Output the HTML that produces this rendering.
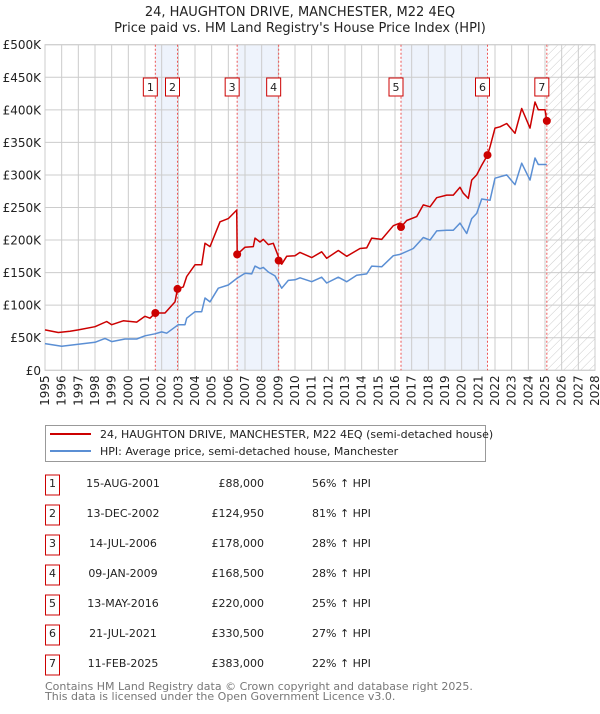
<!DOCTYPE html>
<html><head><meta charset="utf-8">
<style>
body{margin:0;background:#fff;width:600px;height:710px;overflow:hidden;font-family:"DejaVu Sans","Liberation Sans",sans-serif;}
svg text{font-family:"DejaVu Sans","Liberation Sans",sans-serif;}
</style></head>
<body>
<svg id="c" width="600" height="710"></svg>
<script>
const saleYears=[2001.62,2002.95,2006.53,2009.02,2016.36,2021.55,2025.11];
const salePrices=[88,124.95,178,168.5,220,330.5,383];
const saleDates=["15-AUG-2001","13-DEC-2002","14-JUL-2006","09-JAN-2009","13-MAY-2016","21-JUL-2021","11-FEB-2025"];
const salePriceLabels=["£88,000","£124,950","£178,000","£168,500","£220,000","£330,500","£383,000"];
const saleHpiLabels=["56% ↑ HPI","81% ↑ HPI","28% ↑ HPI","28% ↑ HPI","25% ↑ HPI","27% ↑ HPI","22% ↑ HPI"];
const priceYears=[1995,1995.8,1996.5,1997,1998,1998.7,1999,1999.7,2000.5,2001,2001.3,2001.62,2002.2,2002.8,2002.95,2003.3,2003.5,2004,2004.4,2004.6,2004.9,2005.5,2006,2006.5,2006.53,2007,2007.5,2007.6,2007.9,2008.1,2008.4,2008.7,2009.0,2009.02,2009.2,2009.5,2010,2010.3,2011,2011.6,2011.9,2012.6,2013.1,2013.9,2014.3,2014.6,2015.2,2015.9,2016.3,2016.36,2016.7,2017.3,2017.7,2018.1,2018.5,2019.1,2019.5,2019.9,2020.1,2020.4,2020.6,2020.9,2021.2,2021.55,2021.7,2022.0,2022.3,2022.7,2023.2,2023.6,2024.1,2024.4,2024.6,2025.0,2025.11];
const priceValues=[62,58,60,62,67,75,70,76,74,83,80,88,88,105,124.95,128,144,162,162,195,190,228,233,246,178,189,190,203,197,201,193,195,175,168.5,163,175,176,181,173,182,172,184,175,187,188,203,201,222,226,220,230,236,254,251,265,269,269,281,272,264,292,300,315,330.5,343,372,374,379,364,402,372,412,400,400,383];
const hpiYears=[1995,1996,1997,1998,1998.6,1999,1999.8,2000.5,2001,2001.6,2002,2002.3,2003,2003.4,2003.5,2004,2004.4,2004.6,2004.9,2005.4,2006,2006.5,2007,2007.4,2007.6,2007.9,2008.1,2008.4,2008.8,2009.2,2009.6,2010,2010.3,2011,2011.6,2011.9,2012.6,2013.1,2013.7,2014.3,2014.6,2015.2,2015.9,2016.3,2017.1,2017.7,2018.1,2018.5,2019.1,2019.5,2019.9,2020.3,2020.6,2020.9,2021.2,2021.7,2022.0,2022.7,2023.2,2023.6,2024.1,2024.4,2024.6,2025.1];
const hpiValues=[41,37,40,43,49,44,48,48,53,56,59,57,70,70,80,90,90,111,105,126,131,141,149,148,160,156,158,151,145,126,138,139,142,136,143,134,143,136,146,148,160,159,176,178,187,204,200,214,215,215,226,210,233,241,263,261,295,300,285,318,292,326,316,316];
const yTicks=[0,50,100,150,200,250,300,350,400,450,500];
const yTickLabels=["£0","£50K","£100K","£150K","£200K","£250K","£300K","£350K","£400K","£450K","£500K"];
const xTicks=[1995,1996,1997,1998,1999,2000,2001,2002,2003,2004,2005,2006,2007,2008,2009,2010,2011,2012,2013,2014,2015,2016,2017,2018,2019,2020,2021,2022,2023,2024,2025,2026,2027,2028];

const NS="http://www.w3.org/2000/svg";
const svg=document.getElementById('c');
const X0=45,X1=595,Y0=370.3,Y1=44.7;
const xs=y=>X0+(y-1995)/33*(X1-X0);
const ys=v=>Y0-v/500*(Y0-Y1);
function el(t,a,p){const e=document.createElementNS(NS,t);for(const k in a)e.setAttribute(k,a[k]);(p||svg).appendChild(e);return e;}
function tx(s,a,p){const e=el('text',a,p);e.textContent=s;return e;}

const defs=el('defs',{});
const pat=el('pattern',{id:'hatch',width:6,height:6,patternUnits:'userSpaceOnUse',patternTransform:'rotate(45)'},defs);
el('line',{x1:0,y1:0,x2:0,y2:6,stroke:'#cccccc','stroke-width':1},pat);

let t=tx('24, HAUGHTON DRIVE, MANCHESTER, M22 4EQ',{x:300,y:16,'text-anchor':'middle','font-size':13,fill:'#222'});

t=tx("Price paid vs. HM Land Registry's House Price Index (HPI)",{x:300,y:32,'text-anchor':'middle','font-size':13,fill:'#222'});


// shaded spans
[[0,1],[2,3],[4,5]].forEach(p=>{
  const r=el('rect',{x:xs(saleYears[p[0]]),y:Y1,width:xs(saleYears[p[1]])-xs(saleYears[p[0]]),height:Y0-Y1,fill:'#eef3fc'});
  
});
let h=el('rect',{x:xs(saleYears[6]),y:Y1,width:X1-xs(saleYears[6]),height:Y0-Y1,fill:'url(#hatch)'});


// grid
xTicks.forEach(v=>{
  const l=el('line',{x1:xs(v),x2:xs(v),y1:Y1,y2:Y0,stroke:'#cccccc','stroke-width':1});
  
  const tt=tx(String(v),{x:0,y:0,'font-size':12,fill:'#222','text-anchor':'end',transform:`translate(${xs(v)+4},${Y0+5}) rotate(-90)`});
  
});
yTicks.forEach((v,i)=>{
  const l=el('line',{x1:X0,x2:X1,y1:ys(v),y2:ys(v),stroke:'#cccccc','stroke-width':1});
  
  const tt=tx(yTickLabels[i],{x:X0-4,y:ys(v)+4.5,'font-size':12,fill:'#222','text-anchor':'end'});
  
});
let fr=el('rect',{x:X0,y:Y1,width:X1-X0,height:Y0-Y1,fill:'none',stroke:'#cccccc'});


// sale vlines
saleYears.forEach(v=>{
  const l=el('line',{x1:xs(v),x2:xs(v),y1:Y1,y2:Y0,stroke:'#ee5555','stroke-width':1,'stroke-dasharray':'2,2'});
  
});

function path(xa,va,col,name){
  const d=xa.map((x,i)=>(i?'L':'M')+xs(x).toFixed(1)+','+ys(va[i]).toFixed(1)).join('');
  const p=el('path',{d:d,fill:'none',stroke:col,'stroke-width':1.5,'stroke-linejoin':'round'});
  
}
path(hpiYears,hpiValues,'#5b8fd4','hpi-line');
path(priceYears,priceValues,'#cc0000','price-line');

saleYears.forEach((v,i)=>{
  const c=el('circle',{cx:xs(v),cy:ys(salePrices[i]),r:4,fill:'#cc0000'});
  
  const g=el('g',{});
  
  el('rect',{x:xs(v)-12,y:78,width:14,height:18,fill:'#fff',stroke:'#cc0000'},g);
  tx(String(i+1),{x:xs(v)-5,y:91,'font-size':11,fill:'#222','text-anchor':'middle'},g);
});

// legend
const lg=el('g',{});
el('rect',{x:45.5,y:425.5,width:440,height:36,fill:'#fff',stroke:'#999'},lg);
let le=el('g',{},lg);
el('line',{x1:50,x2:91,y1:434,y2:434,stroke:'#cc0000','stroke-width':2},le);
tx('24, HAUGHTON DRIVE, MANCHESTER, M22 4EQ (semi-detached house)',{x:100,y:438,'font-size':11,fill:'#222'},le);
le=el('g',{},lg);
el('line',{x1:50,x2:91,y1:451,y2:451,stroke:'#5b8fd4','stroke-width':2},le);
tx('HPI: Average price, semi-detached house, Manchester',{x:100,y:455,'font-size':11,fill:'#222'},le);

// table
saleDates.forEach((d,i)=>{
  const y=483+i*30;
  const g=el('g',{});
  el('rect',{x:45.5,y:y-8,width:14,height:20,fill:'#fff',stroke:'#cc0000'},g);
  tx(String(i+1),{x:52.5,y:y+4,'font-size':11,fill:'#222','text-anchor':'middle'},g);
  tx(d,{x:123,y:y+4,'font-size':11,fill:'#222','text-anchor':'middle'},g);
  tx(salePriceLabels[i],{x:264,y:y+4,'font-size':11,fill:'#222','text-anchor':'end'},g);
  tx(saleHpiLabels[i],{x:312,y:y+4,'font-size':11,fill:'#222'},g);
});
t=tx('Contains HM Land Registry data © Crown copyright and database right 2025.',{x:45,y:690,'font-size':11,fill:'#777'});

t=tx('This data is licensed under the Open Government Licence v3.0.',{x:45,y:700,'font-size':11,fill:'#777'});

</script>
</body></html>
